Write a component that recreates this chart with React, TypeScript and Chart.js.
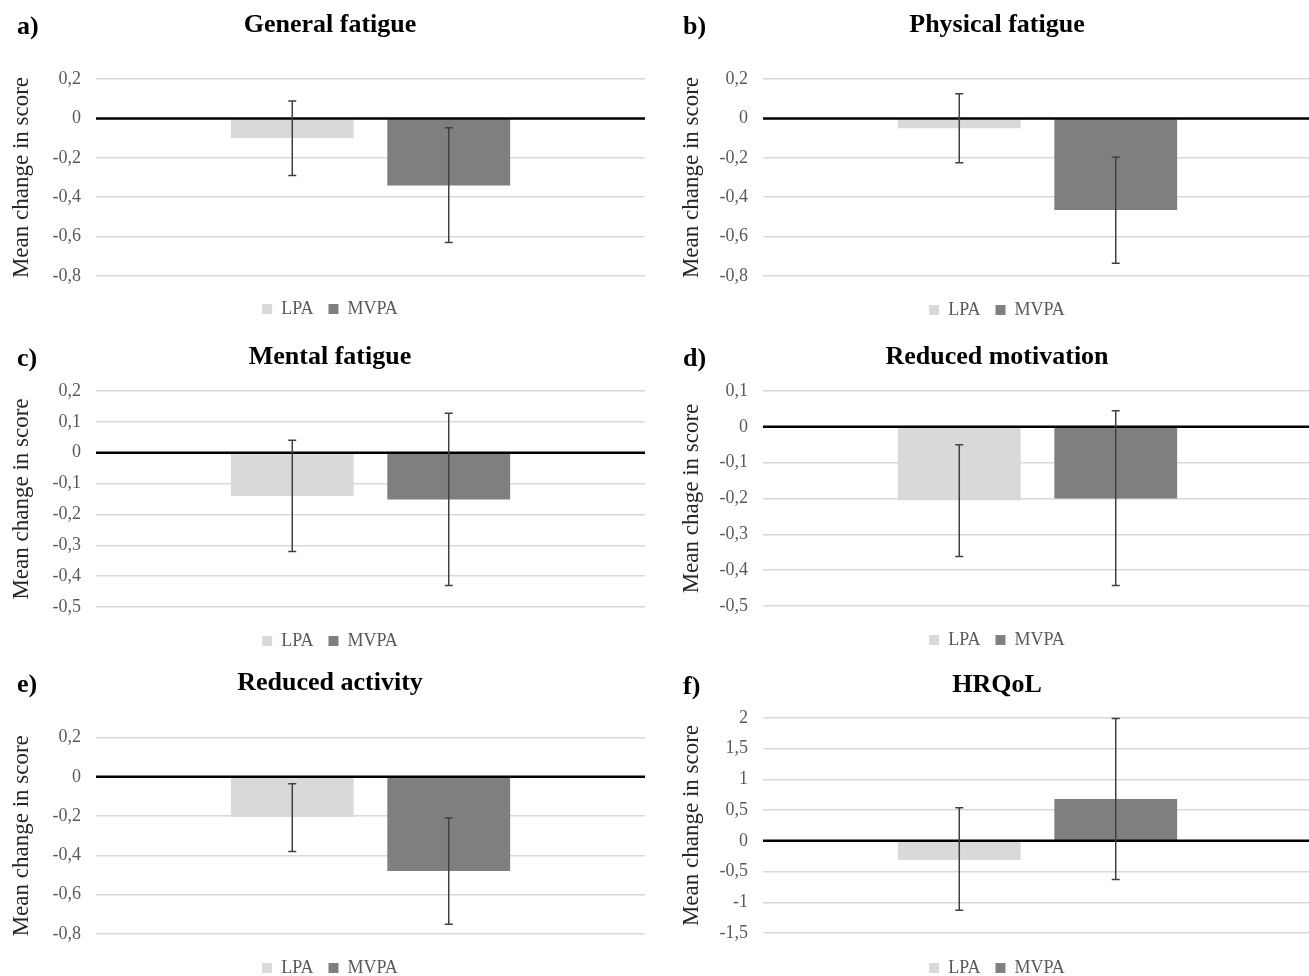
import React, { useEffect, useRef } from "react";
import { Chart, registerables } from "chart.js";

Chart.register(...registerables);

// ---------- data ----------
const PANEL_LETTERS = ["a)", "b)", "c)", "d)", "e)", "f)"];
const PANEL_TITLES = [
  "General fatigue",
  "Physical fatigue",
  "Mental fatigue",
  "Reduced motivation",
  "Reduced activity",
  "HRQoL",
];
const Y_TITLES = [
  "Mean change in score",
  "Mean change in score",
  "Mean change in score",
  "Mean chage in score",
  "Mean change in score",
  "Mean change in score",
];
const SERIES_NAMES = ["LPA", "MVPA"];
const CATEGORY = [""];

const LPA_MEAN = [-0.1, -0.05, -0.14, -0.205, -0.205, -0.31];
const LPA_LOW = [-0.29, -0.225, -0.32, -0.362, -0.38, -1.13];
const LPA_HIGH = [0.088, 0.125, 0.04, -0.05, -0.035, 0.54];

const MVPA_MEAN = [-0.34, -0.465, -0.152, -0.2, -0.48, 0.68];
const MVPA_LOW = [-0.63, -0.735, -0.43, -0.443, -0.75, -0.63];
const MVPA_HIGH = [-0.048, -0.197, 0.128, 0.045, -0.21, 1.99];

const Y_MIN = [-0.8, -0.8, -0.5, -0.5, -0.8, -1.5];
const Y_MAX = [0.2, 0.2, 0.2, 0.1, 0.2, 2];
const Y_STEP = [0.2, 0.2, 0.1, 0.1, 0.2, 0.5];

// ---------- styling / layout ----------
const COLORS = ["#d9d9d9", "#7f7f7f"];
const SERIF = "'Liberation Serif', 'Times New Roman', serif";
const TITLE_SIZE = 26;
const LEGEND_SIZE = 18;
const LEGEND_PAD = 15;

const LAYOUT = [
  { x0: 0, y0: 0, W: 664, padL: 15, padR: 19, titleY: 25, top: 79, bottom: 276, legendY: 309, letterX: 17, yTitlePad: -7 },
  { x0: 660, y0: 0, W: 660, padL: 22, padR: 8, titleY: 25, top: 79, bottom: 276, legendY: 310, letterX: 683, yTitlePad: -4 },
  { x0: 0, y0: 330, W: 664, padL: 15, padR: 19, titleY: 357, top: 391, bottom: 607, legendY: 641, letterX: 17, yTitlePad: -7 },
  { x0: 660, y0: 330, W: 660, padL: 22, padR: 8, titleY: 357, top: 391, bottom: 606, legendY: 640, letterX: 683, yTitlePad: -4 },
  { x0: 0, y0: 660, W: 664, padL: 15, padR: 19, titleY: 683, top: 737.5, bottom: 934, legendY: 968, letterX: 17, yTitlePad: -7 },
  { x0: 660, y0: 660, W: 660, padL: 22, padR: 8, titleY: 685, top: 718, bottom: 933, legendY: 968, letterX: 683, yTitlePad: -4 },
];

function fmt(v: number): string {
  const r = Math.round(v * 10) / 10;
  return String(r === 0 ? 0 : r).replace(".", ",");
}

function Panel({ i }: { i: number }) {
  const ref = useRef<HTMLCanvasElement | null>(null);
  const L = LAYOUT[i];
  const H = L.legendY - L.y0 + LEGEND_SIZE / 2 + 10;
  const titleLH = TITLE_SIZE * 1.2;
  const titlePadTop = L.titleY - L.y0 - titleLH / 2;
  const titlePadBottom = L.top - L.y0 - titleLH - titlePadTop;
  const legendH = LEGEND_SIZE + LEGEND_PAD + 10;
  const xAxisH = H - legendH - (L.bottom - L.y0);
  const yAxisW = 81;

  useEffect(() => {
    if (!ref.current) return;
    const lows = [LPA_LOW[i], MVPA_LOW[i]];
    const highs = [LPA_HIGH[i], MVPA_HIGH[i]];

    const overlay = {
      id: "overlay" + i,
      afterDatasetsDraw(chart: any) {
        const ctx = chart.ctx;
        const y = chart.scales.y;
        const area = chart.chartArea;
        ctx.save();
        // zero axis line
        const y0 = y.getPixelForValue(0);
        ctx.strokeStyle = "#000000";
        ctx.lineWidth = 2.5;
        ctx.beginPath();
        ctx.moveTo(area.left, y0);
        ctx.lineTo(area.right, y0);
        ctx.stroke();
        // error bars
        ctx.strokeStyle = "#404040";
        ctx.lineWidth = 1.5;
        for (let d = 0; d < 2; d++) {
          const meta = chart.getDatasetMeta(d);
          const bar = meta.data[0];
          const x = bar.x;
          const yl = y.getPixelForValue(lows[d]);
          const yh = y.getPixelForValue(highs[d]);
          ctx.beginPath();
          ctx.moveTo(x, yl);
          ctx.lineTo(x, yh);
          ctx.moveTo(x - 4, yl);
          ctx.lineTo(x + 4, yl);
          ctx.moveTo(x - 4, yh);
          ctx.lineTo(x + 4, yh);
          ctx.stroke();
        }
        // panel letter
        ctx.fillStyle = "#000000";
        ctx.font = `bold ${TITLE_SIZE}px ${SERIF}`;
        ctx.textAlign = "left";
        ctx.textBaseline = "middle";
        ctx.fillText(PANEL_LETTERS[i], L.letterX - L.x0, L.titleY - L.y0 + 2);
        ctx.restore();
      },
    };

    const chart = new Chart(ref.current, {
      type: "bar",
      data: {
        labels: CATEGORY,
        datasets: [
          { label: SERIES_NAMES[0], data: [LPA_MEAN[i]], backgroundColor: COLORS[0], borderWidth: 0 },
          { label: SERIES_NAMES[1], data: [MVPA_MEAN[i]], backgroundColor: COLORS[1], borderWidth: 0 },
        ],
      },
      options: {
        responsive: false,
        animation: false,
        events: [],
        categoryPercentage: 0.57,
        barPercentage: 0.785,
        layout: { padding: { left: L.padL, right: L.padR, top: 0, bottom: 0 } },
        plugins: {
          tooltip: { enabled: false },
          title: {
            display: true,
            text: PANEL_TITLES[i],
            color: "#000000",
            font: { family: SERIF, size: TITLE_SIZE, weight: "bold", lineHeight: 1.2 },
            padding: { top: titlePadTop, bottom: titlePadBottom },
          },
          legend: {
            display: true,
            position: "bottom",
            labels: {
              color: "#595959",
              font: { family: SERIF, size: LEGEND_SIZE },
              boxWidth: 10,
              boxHeight: 10,
              padding: LEGEND_PAD,
            },
          },
        },
        scales: {
          x: {
            display: true,
            grid: { display: false },
            border: { display: false },
            ticks: { display: false },
            afterFit: (s: any) => {
              s.height = xAxisH;
            },
          },
          y: {
            min: Y_MIN[i],
            max: Y_MAX[i],
            afterFit: (s: any) => {
              s.width = yAxisW;
            },
            ticks: {
              stepSize: Y_STEP[i],
              padding: 15,
              color: "#595959",
              font: { family: SERIF, size: 18 },
              callback: (v: any) => fmt(Number(v)),
            },
            grid: {
              drawTicks: false,
              color: "#d9d9d9",
              lineWidth: 1.5,
            },
            border: { display: false },
            title: {
              display: true,
              text: Y_TITLES[i],
              color: "#262626",
              font: { family: SERIF, size: 23, lineHeight: 1.2 },
              padding: { top: L.yTitlePad, bottom: 0 },
            },
          },
        },
      },
      plugins: [overlay],
    });
    return () => chart.destroy();
  }, [i]);

  return (
    <canvas
      ref={ref}
      width={L.W}
      height={H}
      style={{ position: "absolute", left: L.x0, top: L.y0, width: L.W, height: H, display: "block" }}
    />
  );
}

export default function App() {
  return (
    <div
      style={{
        position: "fixed",
        left: 0,
        top: 0,
        width: 1309,
        height: 976,
        overflow: "hidden",
        background: "#ffffff",
      }}
    >
      {PANEL_TITLES.map((_, i) => (
        <Panel key={i} i={i} />
      ))}
    </div>
  );
}
